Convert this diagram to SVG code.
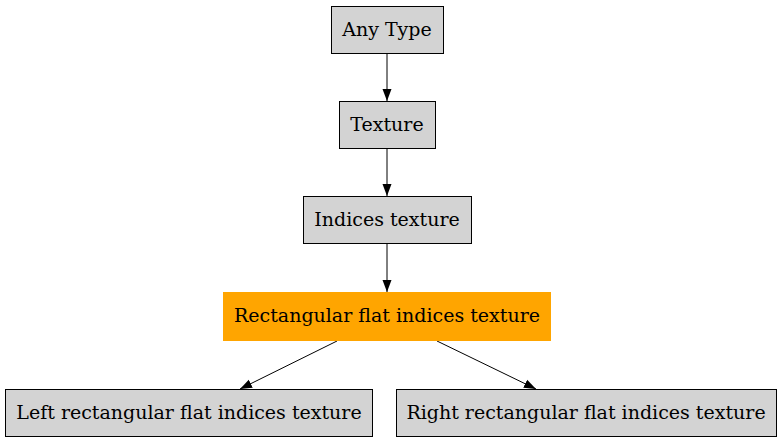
<svg xmlns="http://www.w3.org/2000/svg" width="781" height="443" viewBox="0 0 781 443">
<style>
.n{fill:#d3d3d3;stroke:#000;stroke-width:1}
.t{font-family:"DejaVu Serif",serif;font-size:19px;fill:#000;text-anchor:middle}
.e{stroke:#000;stroke-width:1;fill:none}
</style>
<defs>
<marker id="a" markerWidth="12" markerHeight="10" refX="12" refY="5" orient="auto" markerUnits="userSpaceOnUse">
<path d="M0,0.5 L12,5 L0,9.5 Z" fill="#000"/>
</marker>
</defs>
<rect width="781" height="443" fill="#fff"/>
<g id="edges">
<line class="e" x1="387" y1="53" x2="387" y2="101" marker-end="url(#a)"/>
<line class="e" x1="387" y1="149" x2="387" y2="196" marker-end="url(#a)"/>
<line class="e" x1="387" y1="244" x2="387" y2="292" marker-end="url(#a)"/>
<line class="e" x1="337" y1="341" x2="240" y2="389" marker-end="url(#a)"/>
<line class="e" x1="437" y1="341" x2="536" y2="389" marker-end="url(#a)"/>
</g>
<g id="anytype">
<rect class="n" x="331.5" y="6.5" width="112" height="47"/>
<text class="t" x="387" y="36">Any Type</text>
</g>
<g id="texture">
<rect class="n" x="339.5" y="101.5" width="96" height="47"/>
<text class="t" x="387" y="131">Texture</text>
</g>
<g id="indices">
<rect class="n" x="303.5" y="196.5" width="168" height="47"/>
<text class="t" x="387" y="226">Indices texture</text>
</g>
<g id="rectflat">
<rect x="223" y="292" width="328" height="49" fill="#ffa500"/>
<text class="t" x="387" y="322">Rectangular flat indices texture</text>
</g>
<g id="left">
<rect class="n" x="5.5" y="389.5" width="367" height="47"/>
<text class="t" x="189" y="419">Left rectangular flat indices texture</text>
</g>
<g id="right">
<rect class="n" x="396.5" y="389.5" width="380" height="47"/>
<text class="t" x="586" y="419">Right rectangular flat indices texture</text>
</g>
</svg>
